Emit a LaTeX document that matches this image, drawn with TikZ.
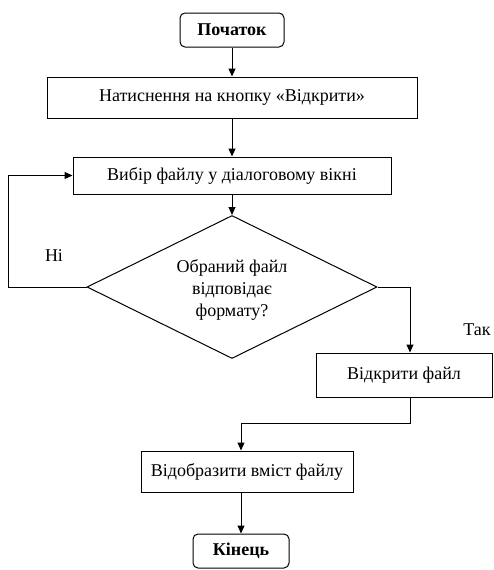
\documentclass[tikz,border=0pt]{standalone}
\usepackage{fontspec}
\setmainfont{Liberation Serif}
\newfontfamily\tnr{Liberation Serif}
\usetikzlibrary{shapes.geometric,arrows.meta}
\begin{document}
\begin{tikzpicture}[x=1pt,y=-1pt,
  txt/.style={font=\tnr\fontsize{18}{22}\selectfont},
  box/.style={draw, line width=1pt, inner sep=0pt, txt, align=center},
  term/.style={box, rounded corners=5pt, font=\tnr\fontsize{18}{22}\selectfont\bfseries},
  dec/.style={draw, line width=1pt, diamond, inner sep=0pt, txt, align=center},
  arr/.style={line width=1pt, -{Triangle[length=8pt,width=7pt]}},
  lbl/.style={txt, inner sep=0pt}]
\useasboundingbox (0,0) rectangle (493,570);
\node[term, minimum width=104pt, minimum height=34pt] (start) at (232,30) {Початок};
\node[box, minimum width=370pt, minimum height=41pt] (b1) at (232,97.5) {Натиснення на кнопку «Відкрити»};
\node[box, minimum width=318pt, minimum height=37pt] (b2) at (232,175.5) {Вибір файлу у діалоговому вікні};
\node[dec, minimum width=290pt, minimum height=143pt] (dia) at (232,287) {};
\node[lbl, align=center] (q) at (232,290) {Обраний файл\\відповідає\\формату?};
\node[box, minimum width=176pt, minimum height=44pt] (b3) at (404,375) {Відкрити файл};
\node[box, minimum width=212pt, minimum height=41pt] (b4) at (247,471.5) {Відобразити вміст файлу};
\node[term, minimum width=96pt, minimum height=34pt] (end) at (241,551) {Кінець};
\node[lbl] (no) at (54,256) {Ні};
\node[lbl] (yes) at (477,330) {Так};
\draw[arr] (start) -- (b1);
\draw[arr] (b1) -- (b2);
\draw[arr] (b2) -- (dia);
\draw[arr] (dia.west) -- ++(-78,0) coordinate (lp) |- (b2.west);
\draw[arr] (dia.east) -| ([xshift=6pt]b3.north);
\draw[arr] ([xshift=6pt]b3.south) -- ++(0,26) -| ([xshift=-6pt]b4.north);
\draw[arr] ([xshift=-6pt]b4.south) -- (end);
\end{tikzpicture}
\end{document}
